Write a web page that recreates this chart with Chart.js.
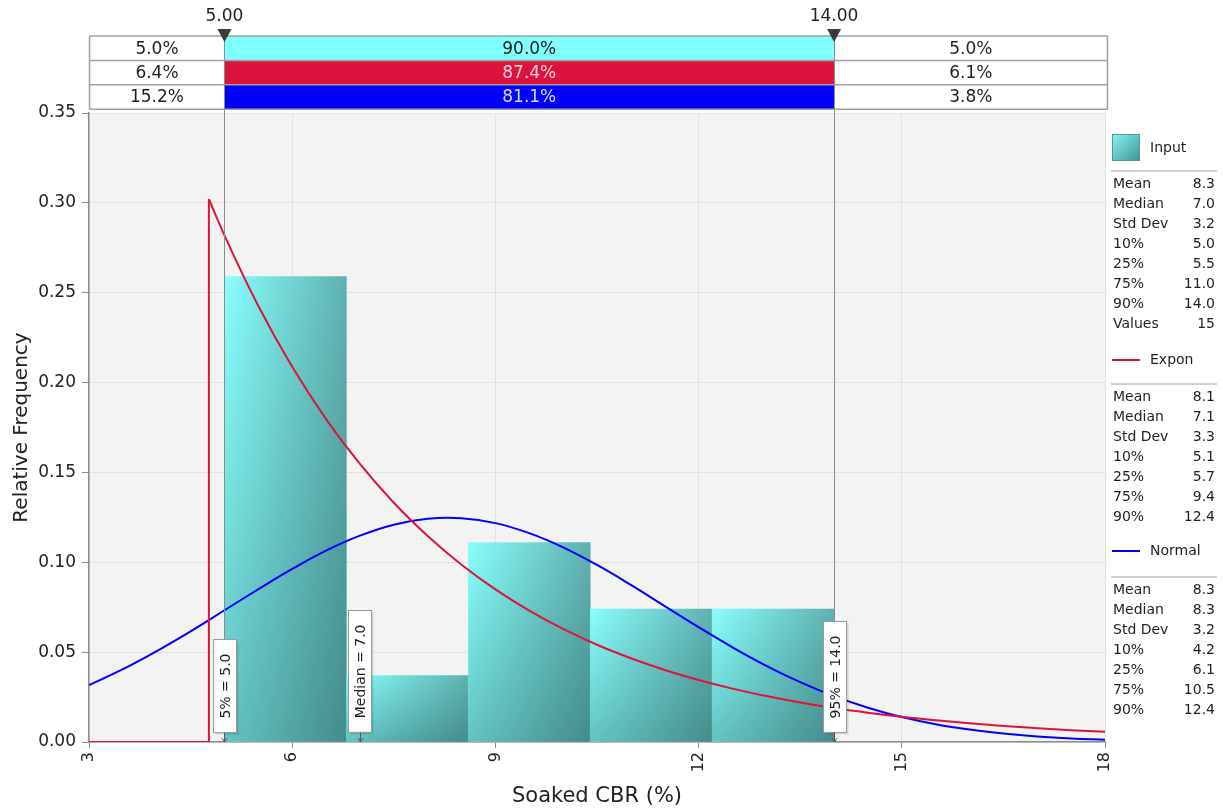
<!DOCTYPE html>
<html>
<head>
<meta charset="utf-8">
<title>Soaked CBR (%)</title>
<script src="https://cdn.jsdelivr.net/npm/chart.js@4.4.1/dist/chart.umd.min.js"></script>
<style>
  html, body { margin: 0; padding: 0; background: #ffffff; }
  canvas { display: block; }
</style>
</head>
<body>
<canvas id="chart" width="1223" height="811"></canvas>
<script>
// Histogram of the input values: bin edges and relative frequency per bin
const binEdges = [5.0, 6.8, 8.6, 10.4, 12.2, 14.0];
const binFreq = [0.259, 0.037, 0.111, 0.074, 0.074];

// Fitted exponential density (shifted), zero below its start point
const exponStartX = 4.77;
const exponPeak = 0.302;
const exponX = [4.77, 5, 5.5, 6, 6.5, 7, 7.5, 8, 8.5, 9, 9.5, 10, 10.5, 11, 11.5, 12,
                12.5, 13, 13.5, 14, 14.5, 15, 15.5, 16, 16.5, 17, 17.5, 18];
const exponY = [0.302, 0.2819, 0.2426, 0.2088, 0.1797, 0.1547, 0.1331, 0.1146, 0.0986,
                0.0849, 0.0731, 0.0629, 0.0541, 0.0466, 0.0401, 0.0345, 0.0297, 0.0256,
                0.0220, 0.0189, 0.0163, 0.0140, 0.0121, 0.0104, 0.0089, 0.0077, 0.0066, 0.0057];

// Fitted normal density
const normalX = [3, 3.5, 4, 4.5, 5, 5.5, 6, 6.5, 7, 7.5, 8, 8.5, 9, 9.5, 10, 10.5, 11,
                 11.5, 12, 12.5, 13, 13.5, 14, 14.5, 15, 15.5, 16, 16.5, 17, 17.5, 18];
const normalY = [0.0316, 0.0405, 0.0506, 0.0616, 0.0733, 0.0850, 0.0963, 0.1065, 0.1148,
                 0.1209, 0.1242, 0.1245, 0.1218, 0.1162, 0.1083, 0.0985, 0.0874, 0.0756,
                 0.0639, 0.0527, 0.0424, 0.0333, 0.0255, 0.0191, 0.0139, 0.0099, 0.0069,
                 0.0047, 0.0031, 0.0020, 0.0013];

// Axis ranges
const xMin = 3, xMax = 18, xStep = 3;
const yMin = 0, yMax = 0.35, yStep = 0.05;

// Delimiters and the probability band above the plot
const delimiters = [5.0, 14.0];
const delimiterText = ['5.00', '14.00'];
const bandLeft = ['5.0%', '6.4%', '15.2%'];
const bandMid = ['90.0%', '87.4%', '81.1%'];
const bandRight = ['5.0%', '6.1%', '3.8%'];
const bandFill = ['#80FFFF', '#DC143C', '#0000FF'];
const bandMidText = ['#1e1e1e', '#ffd6de', '#dcdcff'];

// Marker flags on the x axis
const markerX = [5.0, 7.0, 14.0];
const markerText = ['5% = 5.0', 'Median = 7.0', '95% = 14.0'];

// Statistics panel
const statNames = ['Mean', 'Median', 'Std Dev', '10%', '25%', '75%', '90%'];
const inputStats = ['8.3', '7.0', '3.2', '5.0', '5.5', '11.0', '14.0'];
const inputCount = '15';
const exponStats = ['8.1', '7.1', '3.3', '5.1', '5.7', '9.4', '12.4'];
const normalStats = ['8.3', '8.3', '3.2', '4.2', '6.1', '10.5', '12.4'];

const FONT = "'DejaVu Sans', 'Liberation Sans', sans-serif";
const RED = '#DC143C';
const BLUE = '#0000FF';
Chart.defaults.font.family = FONT;
Chart.defaults.color = '#222';

const barData = binFreq.map((v, i) => ({ x: (binEdges[i] + binEdges[i + 1]) / 2, y: v }));
const exponBase = [{ x: xMin, y: 0 }, { x: exponStartX, y: 0 }, { x: exponStartX, y: exponPeak }];
const exponData = exponX.map((x, i) => ({ x, y: exponY[i] }));
const normalData = normalX.map((x, i) => ({ x, y: normalY[i] }));

function barGradient(ctx) {
  const chart = ctx.chart;
  const xs = chart.scales.x;
  if (!chart.chartArea || !xs || ctx.type !== 'data') return 'rgba(100,210,210,0.92)';
  const i = ctx.dataIndex;
  const l = xs.getPixelForValue(binEdges[i]);
  const r = xs.getPixelForValue(binEdges[i + 1]);
  const g = chart.ctx.createLinearGradient(l, 0, r, 0);
  g.addColorStop(0, 'rgba(130,255,255,0.93)');
  g.addColorStop(1, 'rgba(84,172,172,0.93)');
  return g;
}

// plot background
const plotBackground = {
  id: 'plotBackground',
  beforeDraw(chart) {
    const { ctx, chartArea: a } = chart;
    ctx.save();
    ctx.fillStyle = '#F3F3F3';
    ctx.fillRect(a.left, a.top, a.right - a.left, a.bottom - a.top);
    ctx.restore();
  }
};

// darkens each bar towards its base
const barShade = {
  id: 'barShade',
  afterDatasetDraw(chart, args) {
    if (args.index !== 0) return;
    const ctx = chart.ctx;
    ctx.save();
    args.meta.data.forEach(el => {
      const { x, y, base, width } = el.getProps(['x', 'y', 'base', 'width'], true);
      const g = ctx.createLinearGradient(0, y, 0, base);
      g.addColorStop(0, 'rgba(0,50,50,0)');
      g.addColorStop(1, 'rgba(0,40,40,0.28)');
      ctx.fillStyle = g;
      ctx.fillRect(x - width / 2, y, width, base - y);
    });
    ctx.restore();
  }
};

// delimiter lines and marker flags
const overlays = {
  id: 'overlays',
  afterDatasetsDraw(chart) {
    const { ctx, chartArea: a } = chart;
    const xs = chart.scales.x;
    ctx.save();
    // delimiter lines
    ctx.strokeStyle = '#8c8c8c';
    ctx.lineWidth = 1;
    delimiters.forEach(d => {
      const px = Math.round(xs.getPixelForValue(d)) + 0.5;
      ctx.beginPath();
      ctx.moveTo(px, 36);
      ctx.lineTo(px, a.bottom);
      ctx.stroke();
    });
    // marker flags
    ctx.font = '14px ' + FONT;
    markerX.forEach((v, i) => {
      const px = xs.getPixelForValue(v);
      const tw = ctx.measureText(markerText[i]).width;
      const w = 23, h = tw + 28;
      const bottom = a.bottom - 10;
      const left = Math.round(px - w / 2) + 0.5;
      const top = Math.round(bottom - h) + 0.5;
      ctx.fillStyle = 'rgba(0,0,0,0.12)';
      ctx.fillRect(left + 2, top + 2, w, h);
      ctx.fillStyle = '#ffffff';
      ctx.fillRect(left, top, w, h);
      ctx.strokeStyle = '#9a9a9a';
      ctx.strokeRect(left, top, w, h);
      // pointer
      ctx.strokeStyle = '#555';
      ctx.beginPath();
      ctx.moveTo(Math.round(px) + 0.5, bottom + 0.5);
      ctx.lineTo(Math.round(px) + 0.5, a.bottom);
      ctx.stroke();
      ctx.beginPath();
      ctx.moveTo(Math.round(px) - 2, a.bottom - 4);
      ctx.lineTo(Math.round(px) + 0.5, a.bottom);
      ctx.lineTo(Math.round(px) + 3, a.bottom - 4);
      ctx.stroke();
      // text
      ctx.save();
      ctx.translate(left + w / 2, top + h / 2);
      ctx.rotate(-Math.PI / 2);
      ctx.fillStyle = '#1e1e1e';
      ctx.textAlign = 'center';
      ctx.textBaseline = 'middle';
      ctx.fillText(markerText[i], 0, 1);
      ctx.restore();
    });
    ctx.restore();
  }
};

// probability band above the plot and the statistics panel
const bandAndPanel = {
  id: 'bandAndPanel',
  afterDraw(chart) {
    const { ctx, chartArea: a } = chart;
    const xs = chart.scales.x;
    const d0 = xs.getPixelForValue(delimiters[0]);
    const d1 = xs.getPixelForValue(delimiters[1]);
    const top = 36, rowH = 24.4;
    const L = a.left + 0.5, R = a.right + 2.5;
    ctx.save();
    ctx.textAlign = 'center';
    ctx.textBaseline = 'middle';
    ctx.font = '17px ' + FONT;
    for (let r = 0; r < 3; r++) {
      const y = top + r * rowH;
      ctx.fillStyle = '#ffffff';
      ctx.fillRect(L, y, R - L, rowH);
      ctx.fillStyle = bandFill[r];
      ctx.fillRect(d0, y, d1 - d0, rowH);
      ctx.fillStyle = '#1e1e1e';
      ctx.fillText(bandLeft[r], (L + d0) / 2, y + rowH / 2 + 1);
      ctx.fillText(bandRight[r], (d1 + R) / 2, y + rowH / 2 + 1);
      ctx.fillStyle = bandMidText[r];
      ctx.fillText(bandMid[r], (d0 + d1) / 2, y + rowH / 2 + 1);
    }
    ctx.strokeStyle = '#a0a0a0';
    ctx.lineWidth = 1.5;
    for (let r = 0; r <= 3; r++) {
      const y = top + r * rowH;
      ctx.beginPath();
      ctx.moveTo(L, y);
      ctx.lineTo(R, y);
      ctx.stroke();
    }
    ctx.beginPath();
    ctx.moveTo(L, top); ctx.lineTo(L, top + 3 * rowH);
    ctx.moveTo(R, top); ctx.lineTo(R, top + 3 * rowH);
    ctx.stroke();
    ctx.strokeStyle = '#8c8c8c';
    ctx.lineWidth = 1;
    [d0, d1].forEach(px => {
      const x = Math.round(px) + 0.5;
      ctx.beginPath();
      ctx.moveTo(x, top);
      ctx.lineTo(x, top + 3 * rowH);
      ctx.stroke();
    });
    // delimiter handles and values
    ctx.fillStyle = '#3a3a3a';
    [d0, d1].forEach(px => {
      ctx.beginPath();
      ctx.moveTo(px - 7, 29);
      ctx.lineTo(px + 7, 29);
      ctx.lineTo(px, 42);
      ctx.closePath();
      ctx.fill();
    });
    ctx.fillStyle = '#1e1e1e';
    ctx.font = '17px ' + FONT;
    delimiterText.forEach((t, i) => {
      ctx.fillText(t, [d0, d1][i], 17);
    });

    // statistics panel
    const pl = 1113, pr = 1215;
    ctx.font = '14px ' + FONT;
    ctx.textBaseline = 'middle';
    const rows = (names, vals, y0) => {
      names.forEach((n, i) => {
        ctx.fillStyle = '#1e1e1e';
        ctx.textAlign = 'left';
        ctx.fillText(n, pl, y0 + i * 20);
        ctx.textAlign = 'right';
        ctx.fillText(vals[i], pr, y0 + i * 20);
      });
    };
    const sep = y => {
      ctx.strokeStyle = '#cfcfcf';
      ctx.lineWidth = 2;
      ctx.beginPath();
      ctx.moveTo(1111, y);
      ctx.lineTo(1217, y);
      ctx.stroke();
    };
    // Input swatch
    const sg = ctx.createLinearGradient(1112, 134, 1140, 161);
    sg.addColorStop(0, '#86f6f6');
    sg.addColorStop(1, '#3f9393');
    ctx.fillStyle = sg;
    ctx.fillRect(1112, 134, 28, 27);
    ctx.strokeStyle = '#4a9a9a';
    ctx.lineWidth = 1;
    ctx.strokeRect(1112.5, 134.5, 27, 26);
    ctx.fillStyle = '#1e1e1e';
    ctx.textAlign = 'left';
    ctx.fillText('Input', 1150, 148);
    sep(171);
    rows(statNames.concat(['Values']), inputStats.concat([inputCount]), 184);

    // Expon entry
    ctx.strokeStyle = RED;
    ctx.lineWidth = 2;
    ctx.beginPath(); ctx.moveTo(1112, 360); ctx.lineTo(1140, 360); ctx.stroke();
    ctx.fillStyle = '#1e1e1e';
    ctx.textAlign = 'left';
    ctx.fillText('Expon', 1150, 360);
    sep(384);
    rows(statNames, exponStats, 397);

    // Normal entry
    ctx.strokeStyle = BLUE;
    ctx.lineWidth = 2;
    ctx.beginPath(); ctx.moveTo(1112, 551); ctx.lineTo(1140, 551); ctx.stroke();
    ctx.fillStyle = '#1e1e1e';
    ctx.textAlign = 'left';
    ctx.fillText('Normal', 1150, 551);
    sep(577);
    rows(statNames, normalStats, 590);
    ctx.restore();
  }
};

new Chart(document.getElementById('chart'), {
  type: 'line',
  data: {
    datasets: [
      {
        type: 'bar',
        label: 'Input',
        data: barData,
        backgroundColor: barGradient,
        borderWidth: 0,
        barPercentage: 1,
        categoryPercentage: 1,
        grouped: false,
        order: 3
      },
      {
        label: 'Normal',
        data: normalData,
        borderColor: BLUE,
        borderWidth: 2,
        pointRadius: 0,
        tension: 0.4,
        fill: false,
        order: 2
      },
      {
        label: 'Expon',
        data: exponBase,
        borderColor: RED,
        borderWidth: 2,
        pointRadius: 0,
        tension: 0,
        fill: false,
        order: 1
      },
      {
        label: 'Expon',
        data: exponData,
        borderColor: RED,
        borderWidth: 2,
        pointRadius: 0,
        cubicInterpolationMode: 'monotone',
        fill: false,
        order: 1
      }
    ]
  },
  options: {
    responsive: false,
    animation: false,
    events: [],
    layout: { padding: { left: 0, top: 113, right: 118, bottom: 0 } },
    plugins: {
      legend: { display: false },
      tooltip: { enabled: false },
      title: { display: false }
    },
    scales: {
      x: {
        type: 'linear',
        min: xMin,
        max: xMax,
        offset: false,
        afterFit(scale) { scale.height = 69; },
        ticks: {
          stepSize: xStep,
          minRotation: 90,
          maxRotation: 90,
          font: { size: 16 },
          color: '#222',
          padding: 4,
          callback: v => String(v)
        },
        grid: { offset: false, color: '#E2E2E2', tickColor: '#8c8c8c', tickLength: 6 },
        border: { color: '#8c8c8c', width: 1.5 },
        title: {
          display: true,
          text: 'Soaked CBR (%)',
          font: { size: 21 },
          color: '#222',
          padding: { top: 0, bottom: 2 }
        }
      },
      y: {
        min: yMin,
        max: yMax,
        afterFit(scale) { scale.width = 89; },
        ticks: {
          stepSize: yStep,
          font: { size: 17 },
          color: '#222',
          padding: 6,
          callback: v => Number(v).toFixed(2)
        },
        grid: { color: '#E2E2E2', tickColor: '#8c8c8c', tickLength: 7 },
        border: { color: '#8c8c8c', width: 1.5 },
        title: {
          display: true,
          text: 'Relative Frequency',
          font: { size: 20 },
          color: '#222',
          padding: { top: 10, bottom: 0 }
        }
      }
    }
  },
  plugins: [plotBackground, barShade, overlays, bandAndPanel]
});
</script>
</body>
</html>
